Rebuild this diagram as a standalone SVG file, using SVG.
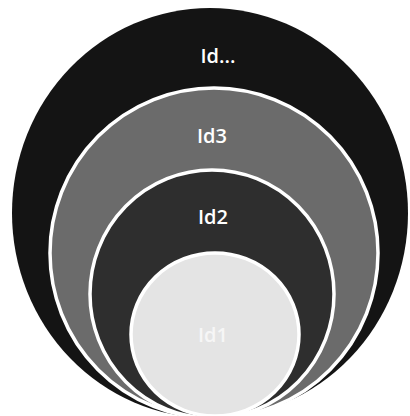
<svg xmlns="http://www.w3.org/2000/svg" width="410" height="416" viewBox="0 0 410 416">
<style>
.ring{stroke:#ffffff;stroke-width:3.5}
.lbl{font-family:"Open Sans","DejaVu Sans",sans-serif;font-size:20px;font-weight:600;fill:#ffffff;text-anchor:middle}
</style>
<rect width="410" height="416" fill="#ffffff"/>
<g id="node-idn">
<ellipse cx="210" cy="213" rx="198" ry="205" fill="#141414"/>
<text class="lbl" x="218" y="63">Id...</text>
</g>
<g id="node-id3">
<ellipse class="ring" cx="214" cy="253" rx="164" ry="165" fill="#6b6b6b"/>
<text class="lbl" x="212" y="143">Id3</text>
</g>
<g id="node-id2">
<ellipse class="ring" cx="212" cy="294" rx="122" ry="124" fill="#2e2e2e"/>
<text class="lbl" x="213" y="224">Id2</text>
</g>
<g id="node-id1">
<ellipse class="ring" cx="215" cy="334.5" rx="84" ry="81.5" fill="#e4e4e4"/>
<text class="lbl" x="213" y="342" style="fill:#f6f6f6">Id1</text>
</g>
<g id="connectors"/>
</svg>
